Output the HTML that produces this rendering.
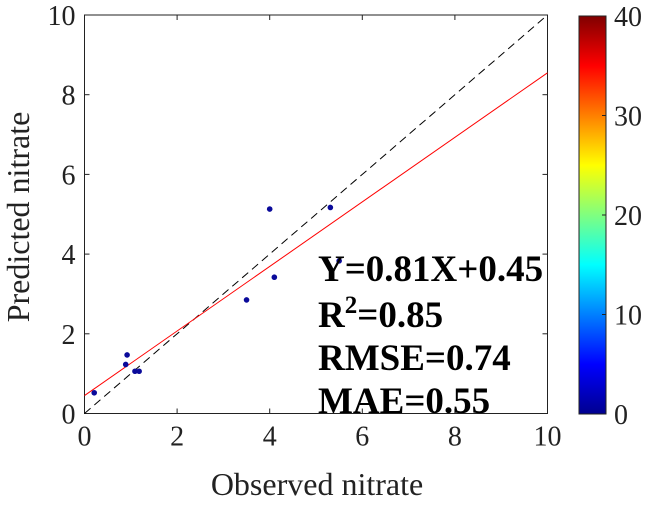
<!DOCTYPE html>
<html><head><meta charset="utf-8"><style>
body{margin:0;background:#fff;}
svg text{font-family:"Liberation Serif",serif;fill:#222;}
</style></head><body>
<svg width="655" height="502" xmlns="http://www.w3.org/2000/svg">
<defs><linearGradient id="jet" x1="0" y1="1" x2="0" y2="0">
<stop offset="0" stop-color="#00008f"/><stop offset="0.125" stop-color="#0000ff"/><stop offset="0.375" stop-color="#00ffff"/><stop offset="0.625" stop-color="#ffff00"/><stop offset="0.875" stop-color="#ff0000"/><stop offset="1" stop-color="#800000"/>
</linearGradient></defs>
<g id="plot"></g>
<rect x="579" y="16" width="27" height="398" fill="url(#jet)" stroke="#222" stroke-width="1"/>
<g id="cbticks"></g>
<text x="317" y="495" font-size="32" text-anchor="middle">Observed nitrate</text>
<text transform="translate(29,217) rotate(-90)" font-size="32" text-anchor="middle">Predicted nitrate</text>
<g font-weight="bold" font-size="37">
<text x="318" y="281" style="fill:#000">Y=0.81X+0.45</text>
<text x="318" y="327" style="fill:#000">R<tspan font-size="25" dy="-14">2</tspan><tspan dy="14">=0.85</tspan></text>
<text x="318" y="370" style="fill:#000">RMSE=0.74</text>
<text x="318" y="413" style="fill:#000">MAE=0.55</text>
</g>
</svg>
<script>
const obs=[0.21,0.89,0.92,1.09,1.18,3.50,4.00,4.10,5.31,5.50];
const pred=[0.52,1.23,1.47,1.06,1.06,2.85,5.13,3.42,5.17,3.83];
const ticks=[0,2,4,6,8,10];
const cbTicks=[0,10,20,30,40];
const slope=0.81, intercept=0.45;
const NS="http://www.w3.org/2000/svg";
const X0=84.5,X1=547.5,Y0=413.5,Y1=15;
const sx=v=>X0+(X1-X0)*v/10, sy=v=>Y0-(Y0-Y1)*v/10;
const g=document.getElementById('plot');
function mk(t,a,p){const e=document.createElementNS(NS,t);for(const k in a)e.setAttribute(k,a[k]);(p||g).appendChild(e);return e;}
let r=mk('rect',{x:X0,y:Y1,width:X1-X0,height:Y0-Y1,fill:'#fff',stroke:'#222','stroke-width':1});


ticks.forEach(t=>{
 mk('line',{x1:sx(t),x2:sx(t),y1:Y0,y2:Y0-5,stroke:'#222'});
 mk('line',{x1:sx(t),x2:sx(t),y1:Y1,y2:Y1+5,stroke:'#222'});
 mk('line',{x1:X0,x2:X0+5,y1:sy(t),y2:sy(t),stroke:'#222'});
 mk('line',{x1:X1,x2:X1-5,y1:sy(t),y2:sy(t),stroke:'#222'});
 let a=mk('text',{x:sx(t),y:Y0+32,'font-size':28,'text-anchor':'middle'});a.textContent=t;
 
 
 let b=mk('text',{x:X0-9,y:sy(t)+10,'font-size':28,'text-anchor':'end'});b.textContent=t;
 
 
});
let d=mk('line',{x1:sx(0),y1:sy(0),x2:sx(10),y2:sy(10),stroke:'#000','stroke-dasharray':'8,5','stroke-width':1});


let f=mk('line',{x1:sx(0),y1:sy(intercept),x2:sx(10),y2:sy(intercept+slope*10),stroke:'#ff0000','stroke-width':1});


obs.forEach((o,i)=>{let c=mk('circle',{cx:sx(o),cy:sy(pred[i]),r:2.8,fill:'#0a0a9a'});
 
 });
const cg=document.getElementById('cbticks');
cbTicks.forEach(t=>{const y=414-398*t/40;
 mk('line',{x1:606,x2:602,y1:y,y2:y,stroke:'#222'},cg);
 let a=mk('text',{x:614,y:y+10,'font-size':28},cg);a.textContent=t;
 
 });
</script>
</body></html>
